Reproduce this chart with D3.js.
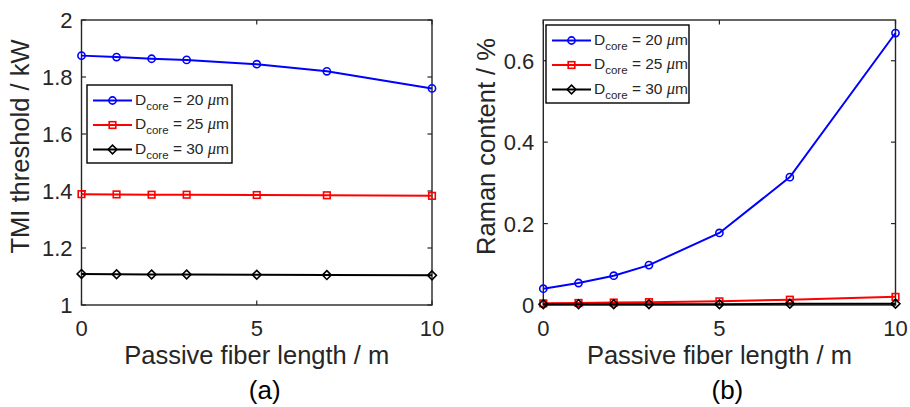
<!DOCTYPE html>
<html>
<head>
<meta charset="utf-8">
<script src="https://cdn.jsdelivr.net/npm/d3@7"></script>
<style>
  html, body { margin: 0; padding: 0; background: #fff; }
  svg { display: block; }
  text { font-family: "Liberation Sans", Arial, sans-serif; fill: #262626; }
</style>
</head>
<body>
<svg id="fig" width="910" height="407"></svg>
<script>
// Passive fiber length (m)
const fiberLength = [0, 1, 2, 3, 5, 7, 10];

// Core diameters shown in the legends
const coreDiameters = [20, 25, 30];

// TMI threshold (kW) per core diameter
const tmi20 = [1.875, 1.870, 1.864, 1.860, 1.845, 1.820, 1.760];
const tmi25 = [1.389, 1.388, 1.387, 1.387, 1.386, 1.385, 1.383];
const tmi30 = [1.109, 1.108, 1.107, 1.107, 1.106, 1.105, 1.104];

// Raman content (%) per core diameter
const raman20 = [0.040, 0.054, 0.072, 0.098, 0.177, 0.314, 0.668];
const raman25 = [0.004, 0.005, 0.006, 0.007, 0.009, 0.013, 0.020];
const raman30 = [0.002, 0.002, 0.002, 0.002, 0.002, 0.003, 0.003];

// Axis ticks
const xTicks = [0, 5, 10];
const tmiTicks = [1, 1.2, 1.4, 1.6, 1.8, 2];
const ramanTicks = [0, 0.2, 0.4, 0.6];

const seriesStyle = [
  { color: "#0000ff", marker: "circle" },
  { color: "#ff0000", marker: "square" },
  { color: "#000000", marker: "diamond" }
];

const svg = d3.select("#fig");
const AXIS = "#262626";
const SERIF = "'Liberation Serif', 'Times New Roman', serif";

function drawMarker(g, type, x, y, color) {
  if (type === "circle") {
    g.append("circle").attr("cx", x).attr("cy", y).attr("r", 3.6)
      .attr("fill", "none").attr("stroke", color).attr("stroke-width", 1.6);
  } else if (type === "square") {
    g.append("rect").attr("x", x - 3.3).attr("y", y - 3.3).attr("width", 6.6).attr("height", 6.6)
      .attr("fill", "none").attr("stroke", color).attr("stroke-width", 1.6);
  } else {
    const s = 4.4;
    g.append("path").attr("d", `M${x},${y - s}L${x + s},${y}L${x},${y + s}L${x - s},${y}Z`)
      .attr("fill", "none").attr("stroke", color).attr("stroke-width", 1.6);
  }
}

function legendLabel(g, x, y, d) {
  const t = g.append("text").attr("x", x).attr("y", y).attr("font-size", 15.5);
  t.append("tspan").text("D");
  t.append("tspan").attr("font-size", 11.5).attr("dy", 5).text("core");
  t.append("tspan").attr("dy", -5).text(` = ${d} `);
  t.append("tspan").attr("font-family", SERIF).attr("font-style", "italic")
    .attr("font-size", 16.5).text("\u03bc");
  t.append("tspan").text("m");
}

function panel(opts) {
  const { x0, x1, yTop, yBot, yDomain, yTicks, yFmt, series, yLabel, yLabelX, tag, legend } = opts;
  const x = d3.scaleLinear().domain([0, 10]).range([x0, x1]);
  const y = d3.scaleLinear().domain(yDomain).range([yBot, yTop]);
  const g = svg.append("g");

  // Box
  g.append("rect").attr("x", x0).attr("y", yTop).attr("width", x1 - x0).attr("height", yBot - yTop)
    .attr("fill", "none").attr("stroke", AXIS).attr("stroke-width", 1.4);

  // Inward ticks on all four sides
  const tl = 4.5;
  xTicks.forEach(v => {
    g.append("line").attr("x1", x(v)).attr("x2", x(v)).attr("y1", yBot).attr("y2", yBot - tl)
      .attr("stroke", AXIS).attr("stroke-width", 1.2);
    g.append("line").attr("x1", x(v)).attr("x2", x(v)).attr("y1", yTop).attr("y2", yTop + tl)
      .attr("stroke", AXIS).attr("stroke-width", 1.2);
    g.append("text").attr("x", x(v)).attr("y", yBot + 31).attr("text-anchor", "middle")
      .attr("font-size", 22).text(v);
  });
  yTicks.forEach(v => {
    g.append("line").attr("x1", x0).attr("x2", x0 + tl).attr("y1", y(v)).attr("y2", y(v))
      .attr("stroke", AXIS).attr("stroke-width", 1.2);
    g.append("line").attr("x1", x1).attr("x2", x1 - tl).attr("y1", y(v)).attr("y2", y(v))
      .attr("stroke", AXIS).attr("stroke-width", 1.2);
    g.append("text").attr("x", x0 - 9).attr("y", y(v) + 8).attr("text-anchor", "end")
      .attr("font-size", 22).text(yFmt(v));
  });

  // Series lines and markers
  const line = d3.line().x((d, i) => x(fiberLength[i])).y(d => y(d));
  series.forEach((vals, k) => {
    const st = seriesStyle[k];
    g.append("path").datum(vals).attr("d", line).attr("fill", "none")
      .attr("stroke", st.color).attr("stroke-width", 2);
    vals.forEach((v, i) => drawMarker(g, st.marker, x(fiberLength[i]), y(v), st.color));
  });

  // Legend
  const lg = g.append("g");
  lg.append("rect").attr("x", legend.x).attr("y", legend.y).attr("width", legend.w).attr("height", legend.h)
    .attr("fill", "#fff").attr("stroke", "#000").attr("stroke-width", 1.4);
  coreDiameters.forEach((d, k) => {
    const st = seriesStyle[k];
    const ly = legend.y + 15.5 + k * 24.5;
    lg.append("line").attr("x1", legend.x + 6).attr("x2", legend.x + 45).attr("y1", ly).attr("y2", ly)
      .attr("stroke", st.color).attr("stroke-width", 2);
    drawMarker(lg, st.marker, legend.x + 25.5, ly, st.color);
    legendLabel(lg, legend.x + 48, ly + 4, d);
  });

  // Axis labels
  svg.append("text").attr("x", (x0 + x1) / 2).attr("y", 364).attr("text-anchor", "middle")
    .attr("font-size", 25.5).text("Passive fiber length / m");
  svg.append("text").attr("transform", `translate(${yLabelX},${(yTop + yBot) / 2 - 16}) rotate(-90)`)
    .attr("text-anchor", "middle").attr("font-size", 25.5).text(yLabel);
  svg.append("text").attr("x", (x0 + x1) / 2 + 8).attr("y", 399).attr("text-anchor", "middle")
    .attr("font-family", SERIF).attr("font-size", 26)
    .style("fill", "#000").text(tag);
}

panel({
  x0: 81.5, x1: 432, yTop: 20, yBot: 305,
  yDomain: [1, 2], yTicks: tmiTicks, yFmt: d3.format("~g"),
  series: [tmi20, tmi25, tmi30],
  yLabel: "TMI threshold / kW", yLabelX: 29, tag: "(a)",
  legend: { x: 87, y: 85, w: 145, h: 78 }
});

panel({
  x0: 543.3, x1: 895.5, yTop: 20, yBot: 305,
  yDomain: [0, 0.7], yTicks: ramanTicks, yFmt: d3.format("~g"),
  series: [raman20, raman25, raman30],
  yLabel: "Raman content / %", yLabelX: 495, tag: "(b)",
  legend: { x: 546, y: 25, w: 143, h: 78 }
});
</script>
</body>
</html>
